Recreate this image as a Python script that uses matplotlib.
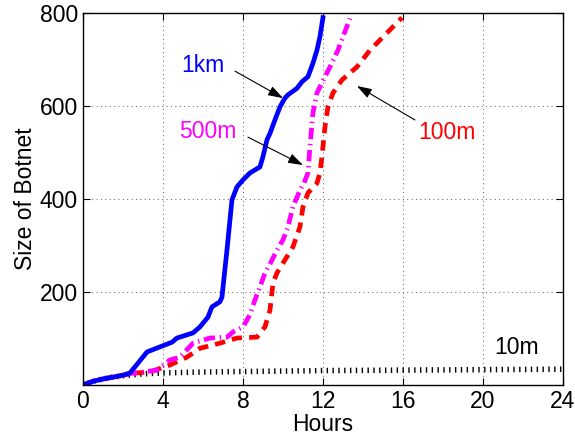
import numpy as np
import matplotlib
matplotlib.use("Agg")
import matplotlib.pyplot as plt

plt.rcParams['font.family'] = ['Liberation Sans', 'DejaVu Sans']

# hours / botnet size
km1_x = [0, 0.5, 1, 1.5, 2, 2.35, 2.75, 3.2, 3.85, 4.45, 4.7, 5.5, 5.85, 6.25, 6.45,
         6.85, 6.95, 7.2, 7.45, 7.7, 8.0, 8.35, 8.85, 9.0, 9.2, 9.35, 9.6, 9.85,
         10.1, 10.25, 10.7, 10.95, 11.25, 11.5, 11.7, 11.85, 12.0]
km1_y = [0, 8, 13, 17, 21, 26, 47, 71, 82, 92, 101, 112, 125, 146, 168,
         179, 189, 290, 398, 426, 441, 456, 469, 491, 527, 541, 570, 598,
         617, 624, 638, 652, 663, 692, 720, 749, 790]

m500_x = [0, 0.5, 1, 1.5, 2, 2.4, 2.85, 3.7, 4.35, 4.85, 5.5, 6.35, 7.2, 7.5, 8.0,
          8.35, 8.6, 8.85, 9.1, 9.35, 9.7, 10.0, 10.25, 10.5, 10.85, 11.05, 11.25,
          11.35, 11.5, 11.7, 11.95, 12.35, 12.75, 13.0, 13.35]
m500_y = [0, 8, 13, 17, 21, 25, 27, 32, 54, 60, 90, 101, 103, 114, 125,
          151, 183, 211, 241, 260, 290, 312, 340, 383, 419, 434, 456,
          512, 585, 628, 650, 684, 720, 749, 788]

m100_x = [0, 0.5, 1, 1.5, 2, 2.4, 2.7, 3.35, 4.35, 5.2, 5.85, 6.85, 7.7, 8.7, 9.1,
          9.35, 9.5, 9.7, 10.1, 10.5, 10.85, 11.0, 11.25, 11.7, 11.85, 11.95,
          12.1, 12.25, 12.5, 12.95, 13.7, 14.35, 15.2, 15.95]
m100_y = [0, 8, 13, 17, 21, 25, 26, 28, 43, 60, 79, 90, 101, 103, 125,
          161, 219, 241, 269, 297, 340, 383, 413, 434, 456, 491,
          555, 598, 628, 656, 684, 720, 757, 790]

m10_x = [0, 0.5, 1, 1.5, 2, 3, 4, 6, 8, 12, 16, 20, 24]
m10_y = [0, 8, 13, 17, 20, 24, 26, 28, 29, 31, 32, 33, 34]

fig = plt.figure(figsize=(5.75, 4.43), dpi=100)
ax = fig.add_axes([0.1443, 0.1309, 0.8347, 0.8398])

fs = 16.5
ax.plot(m10_x, m10_y, color='black', lw=4, linestyle=(0, (0.25, 0.8)),
        dash_capstyle='butt')
ax.plot(m100_x, m100_y, color='red', lw=3.4, linestyle=(0, (2.2, 1.5)))
ax.plot(m500_x, m500_y, color='magenta', lw=3.4, linestyle=(0, (2.4, 1.0, 0.3, 1.0)))
ax.plot(km1_x, km1_y, color='blue', lw=3.4)

ax.set_xlim(0, 24)
ax.set_ylim(0, 800)
ax.set_xticks([0, 4, 8, 12, 16, 20, 24])
ax.set_yticks([200, 400, 600, 800])
ax.tick_params(direction='in', top=True, right=True, labelsize=fs, length=5, width=0.8)
ax.grid(True, linestyle=(0, (1, 3.5)), color='0.35', lw=0.7)
for s in ax.spines.values():
    s.set_linewidth(1.0)

ax.set_xlabel('Hours', fontsize=fs, labelpad=0)
ax.set_ylabel('Size of Botnet', fontsize=fs, labelpad=2)

arrow = dict(arrowstyle='-|>,head_length=0.9,head_width=0.3', color='black', lw=0.8,
             shrinkA=0, shrinkB=0)
ax.annotate('', xy=(10.0, 617), xytext=(7.6, 675), arrowprops=arrow)
ax.annotate('', xy=(11.0, 473), xytext=(8.25, 533), arrowprops=arrow)
ax.annotate('', xy=(13.7, 643), xytext=(16.6, 570), arrowprops=arrow)

ax.text(6.0, 688, '1km', color='blue', fontsize=fs, ha='center', va='center')
ax.text(6.25, 546, '500m', color='magenta', fontsize=fs, ha='center', va='center')
ax.text(18.2, 544, '100m', color='red', fontsize=fs, ha='center', va='center')
ax.text(21.7, 80, '10m', color='black', fontsize=fs, ha='center', va='center')

fig.savefig('out.png', dpi=100)
